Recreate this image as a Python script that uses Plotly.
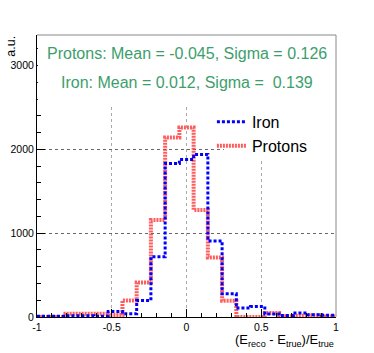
"""
Energy resolution histogram: protons vs iron.
"""

import numpy as np
import plotly.graph_objects as go

# 21 bins over [-1, 1]
bin_edges = np.linspace(-1.0, 1.0, 22)

# counts per bin
protons_counts = [0, 0, 40, 40, 40, 25, 198, 412, 1158, 2143, 2262,
                  1277, 710, 194, 0, 0, 48, 10, 15, 20, 5]
iron_counts = [8, 8, 15, 15, 10, 65, 40, 198, 718, 1833, 1880,
               1940, 908, 277, 107, 126, 36, 19, 48, 27, 20]

x_tickvals = [-1, -0.5, 0, 0.5, 1]
x_ticktext = ['-1', '-0.5', '0', '0.5', '1']

protons_label = "Protons: Mean = -0.045, Sigma = 0.126"
iron_label = "Iron: Mean = 0.012, Sigma =\u00a0\u00a00.139"

FONT = "Liberation Sans"
GREEN = "#3c9e6c"


def step(counts):
    # repeat last value so the hv line reaches the right edge
    return list(bin_edges), list(counts) + [counts[-1]]


fig = go.Figure()

x, y = step(protons_counts)
fig.add_trace(go.Scatter(
    x=x, y=y, mode='lines', line_shape='hv', name='Protons',
    line=dict(color='rgba(255,30,30,0.72)', width=4, dash='2px,1px'),
))

x, y = step(iron_counts)
fig.add_trace(go.Scatter(
    x=x, y=y, mode='lines', line_shape='hv', name='Iron',
    line=dict(color='#0000ff', width=3, dash='3px,2px'),
))

# white boxes hiding the grid behind text and legend (no data sits there)
fig.add_shape(type='rect', xref='paper', yref='paper', x0=0.003, x1=1, y0=0.752, y1=1,
              fillcolor='white', line_width=0, layer='above')
fig.add_shape(type='rect', xref='paper', yref='paper', x0=0.625, x1=1, y0=0.557, y1=0.752,
              fillcolor='white', line_width=0, layer='above')
# grey top/right frame
fig.add_shape(type='line', xref='paper', yref='paper', x0=0, x1=1, y0=1, y1=1,
              line=dict(color='#888888', width=1))
fig.add_shape(type='line', xref='paper', yref='paper', x0=1, x1=1, y0=0, y1=1,
              line=dict(color='#888888', width=1))

fig.add_annotation(text=protons_label, xref='paper', yref='paper', x=0.5, y=0.935,
                   xanchor='center', yanchor='middle', showarrow=False,
                   font=dict(size=16, color=GREEN, family=FONT))
fig.add_annotation(text=iron_label, xref='paper', yref='paper', x=0.5, y=0.833,
                   xanchor='center', yanchor='middle', showarrow=False,
                   font=dict(size=16, color=GREEN, family=FONT))

fig.add_annotation(text="(E<sub>reco</sub> - E<sub>true</sub>)/E<sub>true</sub>",
                   xref='paper', yref='paper', x=1.0, y=-0.045,
                   xanchor='right', yanchor='top', showarrow=False,
                   font=dict(size=13, color='black', family=FONT))
fig.add_annotation(text="a.u.", xref='paper', yref='paper', x=-0.085, y=1.005,
                   xanchor='center', yanchor='top', textangle=-90, showarrow=False,
                   font=dict(size=12.5, color='black', family=FONT))

fig.update_layout(
    width=374, height=353,
    margin=dict(l=37, r=38, t=35, b=36),
    plot_bgcolor='white',
    paper_bgcolor='white',
    font=dict(family=FONT, size=10.5, color='black'),
    showlegend=True,
    legend=dict(x=0.585, y=0.752, xanchor='left', yanchor='top',
                traceorder='reversed', bgcolor='rgba(0,0,0,0)',
                font=dict(size=16, family=FONT, color='black')),
    xaxis=dict(
        range=[-1, 1], tickvals=x_tickvals, ticktext=x_ticktext,
        showline=True, linecolor='black', linewidth=1,
        ticks='inside', ticklen=8, tickcolor='black',
        showgrid=True, gridcolor='#aaaaaa', griddash='dot', gridwidth=1,
        zeroline=False,
        minor=dict(dtick=0.1, ticks='inside', ticklen=4, tickcolor='black', showgrid=False),
    ),
    yaxis=dict(
        range=[0, 3365], dtick=1000,
        showline=True, linecolor='black', linewidth=1,
        ticks='inside', ticklen=8, tickcolor='black',
        showgrid=True, gridcolor='#666666', griddash='dot', gridwidth=1,
        zeroline=False,
        minor=dict(dtick=200, ticks='inside', ticklen=4, tickcolor='black', showgrid=False),
    ),
)

# drop the default body margin so the figure sits at the page corner
fig.write_html("out.html", config={'displayModeBar': False},
               post_script="document.body.style.margin = '0';")
